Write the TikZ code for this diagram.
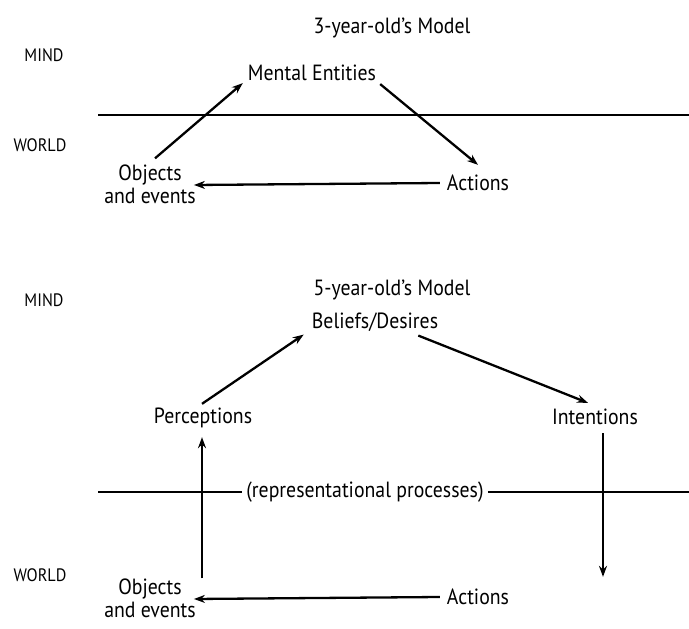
\documentclass[tikz,border=0pt]{standalone}
\usepackage{fontspec}
\setmainfont{PT Sans}[FakeStretch=0.9]
\usetikzlibrary{arrows.meta}
\begin{document}
\begin{tikzpicture}[x=1pt,y=-1pt,
  lbl/.style={font=\fontsize{22}{23}\selectfont, inner sep=0pt, align=center},
  side/.style={font=\fontsize{18}{20}\selectfont, inner sep=0pt},
  arr/.style={line width=2.3pt, -{Stealth[length=11pt,width=8pt]}},
  rule/.style={line width=1.8pt}]
\useasboundingbox (0,0) rectangle (689,629);
% ---------- 3-year-old ----------
\node[lbl] (t3) at (392,28) {3-year-old's Model};
\node[side] (mind1) at (44,55) {MIND};
\node[side] (world1) at (40,145) {WORLD};
\node[lbl] (ment) at (312,73) {Mental Entities};
\node[lbl] (obj1) at (150,184) {Objects\\and events};
\node[lbl] (act1) at (478,183) {Actions};
\coordinate (l1a) at (98,115);
\coordinate (l1b) at (689,115);
\draw[rule] (l1a) -- (l1b);
\draw[arr] ([xshift=5pt,yshift=6pt]obj1.north) -- ([xshift=-5pt,yshift=-2pt]ment.south west);
\draw[arr] ([xshift=4pt,yshift=-3pt]ment.south east) -- ([yshift=10pt]act1.north);
\draw[arr] ([xshift=-7pt]act1.west) -- ([xshift=-2pt,yshift=-1pt]obj1.east);
% ---------- 5-year-old ----------
\node[lbl] (t5) at (392,290) {5-year-old's Model};
\node[side] (mind2) at (44,300) {MIND};
\node[side] (world2) at (40,575) {WORLD};
\node[lbl] (bel) at (375,322) {Beliefs/Desires};
\node[lbl] (perc) at (203,418) {Perceptions};
\node[lbl] (intn) at (595,417) {Intentions};
\node[lbl] (obj2) at (150,598) {Objects\\and events};
\node[lbl] (act2) at (478,597) {Actions};
\node[lbl] (rp) at (365,492) {(representational processes)};
\coordinate (l2a) at (98,492);
\coordinate (l2b) at (689,492);
\draw[rule] (l2a) -- ([xshift=-4pt]rp.west);
\draw[rule] ([xshift=4pt]rp.east) -- (l2b);
\draw[arr] ([xshift=-1pt,yshift=4pt]perc.north) -- ([xshift=-8pt,yshift=-3pt]bel.south west);
\draw[arr] ([xshift=-20pt,yshift=-4pt]bel.south east) -- ([xshift=-7pt,yshift=6pt]intn.north);
\draw[arr] ([xshift=8pt,yshift=-8pt]intn.south) -- ([xshift=8pt,yshift=12pt]intn.south |- act2.north);
\draw[arr] ([xshift=52pt,yshift=0pt]obj2.north) -- ([xshift=-1pt,yshift=-9pt]perc.south);
\draw[arr] ([xshift=-7pt]act2.west) -- ([xshift=-2pt,yshift=-1pt]obj2.east);
\end{tikzpicture}
\end{document}
